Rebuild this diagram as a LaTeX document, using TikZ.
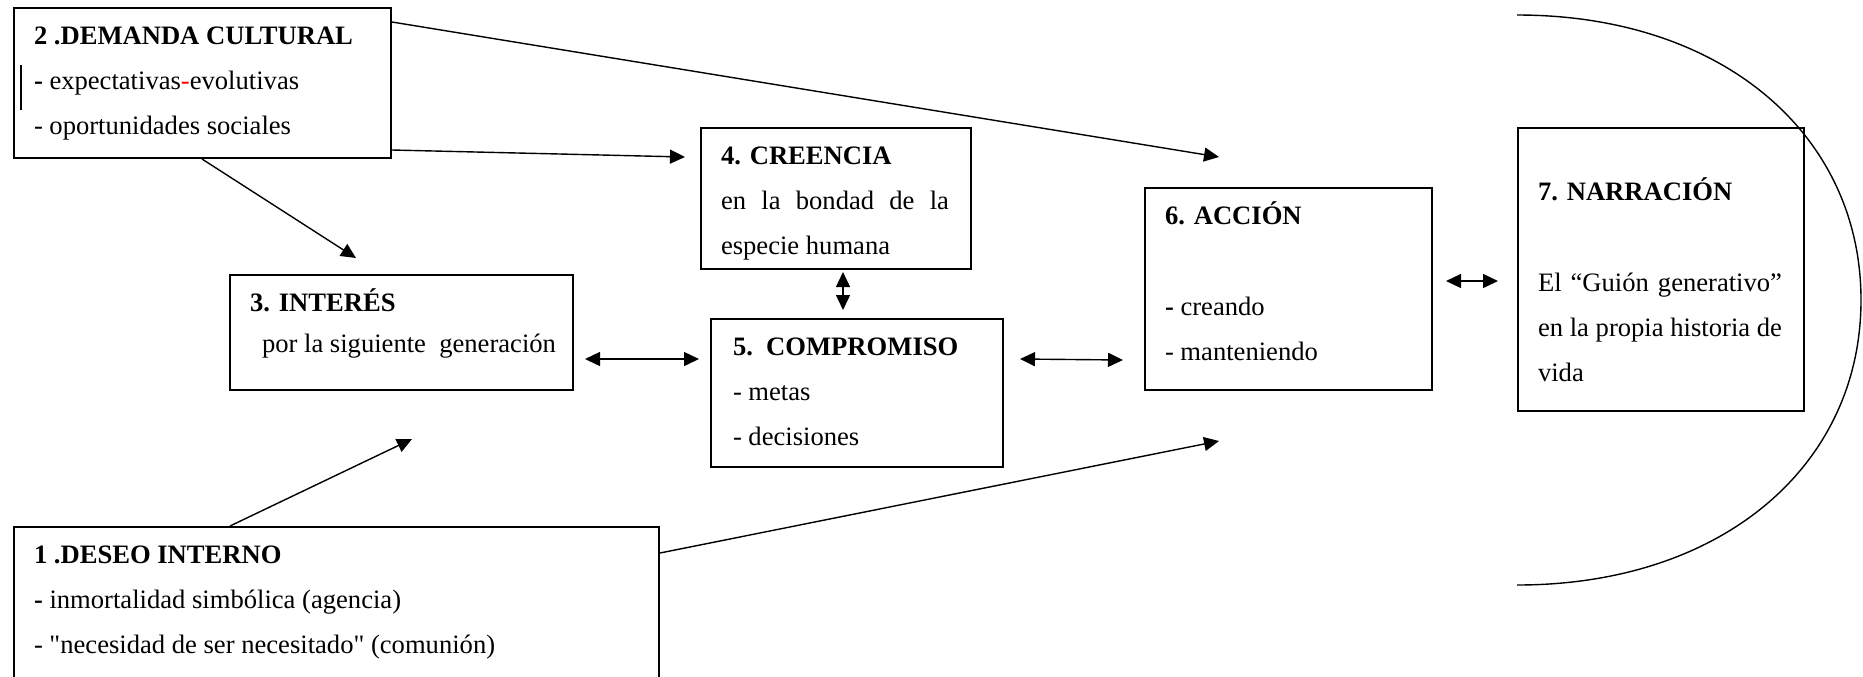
\documentclass[tikz,border=0pt]{standalone}
\usepackage{fontspec}
\setmainfont{Liberation Serif}[Ligatures=TeXOff]
\usetikzlibrary{arrows.meta,calc}
\newcommand\bxt[4]{\hspace*{10pt}\begin{minipage}[c][#2][t]{#1}\rule{0pt}{#3}#4\end{minipage}}
\tikzset{
  bx/.style={draw, line width=1pt, inner sep=0pt, anchor=north west, font=\fontsize{13.3}{22.5}\selectfont},
  arr/.style={line width=0.7pt, -{Triangle[length=7.5pt,width=7pt]}},
  darr/.style={line width=0.7pt, {Triangle[length=7.5pt,width=7pt]}-{Triangle[length=7.5pt,width=7pt]}},
  frame/.style={line width=0.7pt}
}
\begin{document}
\begin{tikzpicture}[x=0.5pt,y=-0.5pt]
\useasboundingbox (0,0) rectangle (1863,676);
% boxes
\node[bx] (b2) at (13,7) {\bxt{178.5pt}{75pt}{18pt}{\textbf{2 .DEMANDA CULTURAL}\\\textbf{-} expectativas{\color{red}-}evolutivas\\- oportunidades sociales}};
\node[bx] (b4) at (700,127) {\bxt{125pt}{70.5pt}{18pt}{\textbf{4. CREENCIA}\\\makebox[114pt][s]{en la bondad de la}\\especie humana}};
\node[bx] (b3) at (229,274) {\bxt{161.5pt}{57.5pt}{18pt}{\textbf{3. INTERÉS}\\[-2pt]\hspace*{6pt}por la siguiente\ \ generación}};
\node[bx] (b5) at (710,318) {\bxt{136pt}{74pt}{18pt}{\hspace*{1pt}\textbf{5.\ \ COMPROMISO}\\\hspace*{1pt}- metas\\\hspace*{1pt}- decisiones}};
\node[bx] (b6) at (1144,187) {\bxt{133.5pt}{101pt}{18pt}{\textbf{6. ACCIÓN}\\[23pt]\textbf{-} creando\\- manteniendo}};
\node[bx] (b7) at (1517,127) {\bxt{133pt}{141.5pt}{36pt}{\textbf{7. NARRACIÓN}\\[23pt]\makebox[122pt][s]{El “Guión generativo”}\\\makebox[122pt][s]{en la propia historia de}\\vida}};
\node[bx] (b1) at (13,526) {\bxt{312.5pt}{100pt}{18pt}{\textbf{1 .DESEO INTERNO}\\\textbf{-} inmortalidad simbólica (agencia)\\- "necesidad de ser necesitado" (comunión)}};
% revision bar
\draw[line width=0.6pt] ($(b2.north west)+(8,58)$) -- ++(0,45);
% free arrow ends
\coordinate (c26) at (1219,157);
\coordinate (c24) at (685,157);
\coordinate (c23) at (356,258);
\coordinate (c13) at (412,439);
\coordinate (c16) at (1219,441);
% arrows
\draw[arr] ($(b2.north east)+(0,15)$) -- (c26);
\draw[arr] ($(b2.north east)+(0,143)$) -- (c24);
\draw[arr] ($(b2.south west)+(189,0)$) -- (c23);
\draw[arr] ($(b1.north west)+(217,0)$) -- (c13);
\draw[arr] ($(b1.north east)+(0,27)$) -- (c16);
% double arrows
\draw[darr] ($(b3.north east)+(11,85)$) -- ($(b5.north west)+(-11,41)$);
\draw[darr] ($(b4.south west)+(143,2)$) -- ($(b5.north west)+(133,-8)$);
\draw[darr] ($(b5.north east)+(16,41)$) -- ($(b6.north west)+(-21,173)$);
\draw[darr] ($(b6.north east)+(13,94)$) -- ($(b7.north west)+(-19,154)$);
% enclosing arc
\draw[frame] (1517,15) .. controls (1723,15) and (1861,135) .. (1861,300) .. controls (1861,465) and (1723,585) .. (1517,585);
\end{tikzpicture}
\end{document}
